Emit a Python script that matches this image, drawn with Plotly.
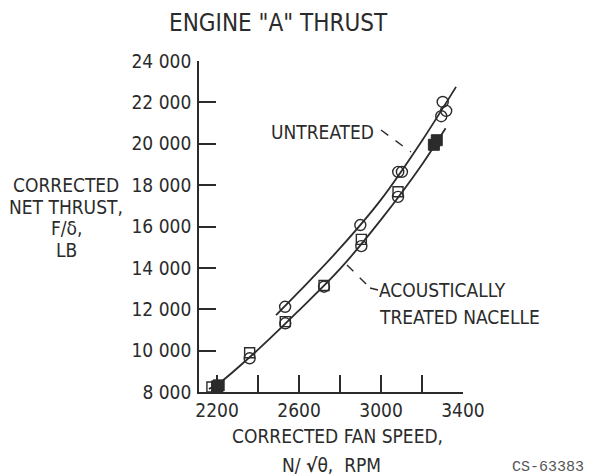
import plotly.graph_objects as go

# fan speed ticks / thrust ticks
x_tick_vals = [2200, 2400, 2600, 2800, 3000, 3200, 3400]
x_tick_text = ["2200", "", "2600", "", "3000", "", "3400"]
y_tick_vals = [8000, 10000, 12000, 14000, 16000, 18000, 20000, 22000, 24000]
y_tick_text = ["8 000", "10 000", "12 000", "14 000", "16 000", "18 000", "20 000", "22 000", "24 000"]

# untreated nacelle - measured points (open circles)
untreated_x = [2532, 2899, 3084, 3102, 3294, 3301, 3318]
untreated_y = [12120, 16070, 18640, 18640, 21330, 22020, 21590]

# untreated faired curve
untreated_curve_x = [2488, 2600, 2800, 3000, 3200, 3366]
untreated_curve_y = [11720, 12850, 14950, 17300, 20150, 22750]

# acoustically treated nacelle - open circles
treated_circ_x = [2359, 2533, 2722, 2904, 3083]
treated_circ_y = [9630, 11320, 13090, 15050, 17430]

# acoustically treated nacelle - open squares
treated_sq_x = [2175, 2359, 2533, 2722, 2904, 3083]
treated_sq_y = [8240, 9900, 11400, 13150, 15380, 17680]

# acoustically treated nacelle - solid symbols
treated_solid_x = [2200, 2208, 3258, 3272]
treated_solid_y = [8270, 8320, 19950, 20170]

# treated faired curve
treated_curve_x = [2160, 2200, 2400, 2600, 2800, 3000, 3200, 3315]
treated_curve_y = [8150, 8350, 10050, 11950, 13950, 16330, 19000, 20750]

y_title_lines = ["CORRECTED", "NET THRUST,", "F/δ,", "LB"]

FONT = "Liberation Sans Narrow, DejaVu Sans Condensed, Arial Narrow, sans-serif"
INK = "#2b2b2b"

fig = go.Figure()

fig.add_trace(go.Scatter(x=untreated_curve_x, y=untreated_curve_y, mode="lines",
                         line=dict(color=INK, width=1.8, shape="spline")))
fig.add_trace(go.Scatter(x=treated_curve_x, y=treated_curve_y, mode="lines",
                         line=dict(color=INK, width=1.8, shape="spline")))

fig.add_trace(go.Scatter(x=untreated_x, y=untreated_y, mode="markers",
                         marker=dict(symbol="circle-open", size=11, color=INK, line=dict(width=1.4))))
fig.add_trace(go.Scatter(x=treated_sq_x, y=treated_sq_y, mode="markers",
                         marker=dict(symbol="square-open", size=10, color=INK, line=dict(width=1.4))))
fig.add_trace(go.Scatter(x=treated_circ_x, y=treated_circ_y, mode="markers",
                         marker=dict(symbol="circle-open", size=11, color=INK, line=dict(width=1.4))))
fig.add_trace(go.Scatter(x=treated_solid_x, y=treated_solid_y, mode="markers",
                         marker=dict(symbol="square", size=11, color=INK, line=dict(width=1, color=INK))))

# plot area in window pixels: x 199..463, y 61..392
# the page body has an 8px margin, so the figure is offset by that
OFF = 8
L, R, T, B = 199, 463, 61, 392


def px(x):
    return (x - L) / (R - L)


def py(y):
    return (B - y) / (B - T)


# leader lines
fig.add_shape(type="line", xref="paper", yref="paper", x0=px(381), y0=py(130), x1=px(411), y1=py(152),
              line=dict(color=INK, width=1.4, dash="dash"))
fig.add_shape(type="line", xref="paper", yref="paper", x0=px(347), y0=py(265), x1=px(370), y1=py(288),
              line=dict(color=INK, width=1.4, dash="dash"))
fig.add_shape(type="line", xref="paper", yref="paper", x0=px(370), y0=py(288), x1=px(378), y1=py(290),
              line=dict(color=INK, width=1.4))

ann = dict(xref="paper", yref="paper", showarrow=False, font=dict(family=FONT, size=19, color=INK))
fig.add_annotation(text="ENGINE \"A\" THRUST", x=px(278), y=py(OFF - 1), xanchor="center", yanchor="top",
                   **{**ann, "font": dict(family=FONT, size=24, color=INK)})
fig.add_annotation(text="UNTREATED", x=px(376), y=py(132), xanchor="right", yanchor="middle", **ann)
fig.add_annotation(text="ACOUSTICALLY", x=px(377), y=py(290), xanchor="left", yanchor="middle", **ann)
fig.add_annotation(text="TREATED NACELLE", x=px(377), y=py(317), xanchor="left", yanchor="middle", **ann)
for i, line in enumerate(y_title_lines):
    fig.add_annotation(text=line, x=px(66), y=py(185 + 21.7 * i), xanchor="center", yanchor="middle", **ann)
fig.add_annotation(text="CORRECTED FAN SPEED,", x=px(337), y=py(436), xanchor="center", yanchor="middle", **ann)
fig.add_annotation(text="N/ <b>√</b>θ,  RPM", x=px(331), y=py(465), xanchor="center", yanchor="middle", **ann)
fig.add_annotation(text="CS-63383", x=px(548), y=py(467), xanchor="center", yanchor="middle",
                   **{**ann, "font": dict(family="Liberation Mono, DejaVu Sans Mono, monospace", size=15,
                                          color="#555")})

axis_common = dict(showgrid=False, zeroline=False, showline=True, linecolor=INK, linewidth=1.8,
                   ticks="inside", ticklen=17, tickwidth=1.8, tickcolor=INK,
                   tickfont=dict(family=FONT, size=19, color=INK))

fig.update_xaxes(range=[2112, 3400], tickvals=x_tick_vals, ticktext=x_tick_text, **axis_common)
fig.update_yaxes(range=[8000, 24000], tickvals=y_tick_vals, ticktext=y_tick_text, ticklabelstandoff=2,
                 **axis_common)

fig.update_layout(width=593 - OFF, height=475 - OFF,
                  margin=dict(l=L - OFF, r=593 - R, t=T - OFF, b=475 - B),
                  paper_bgcolor="white", plot_bgcolor="white", showlegend=False)

fig.write_html("out.html")
